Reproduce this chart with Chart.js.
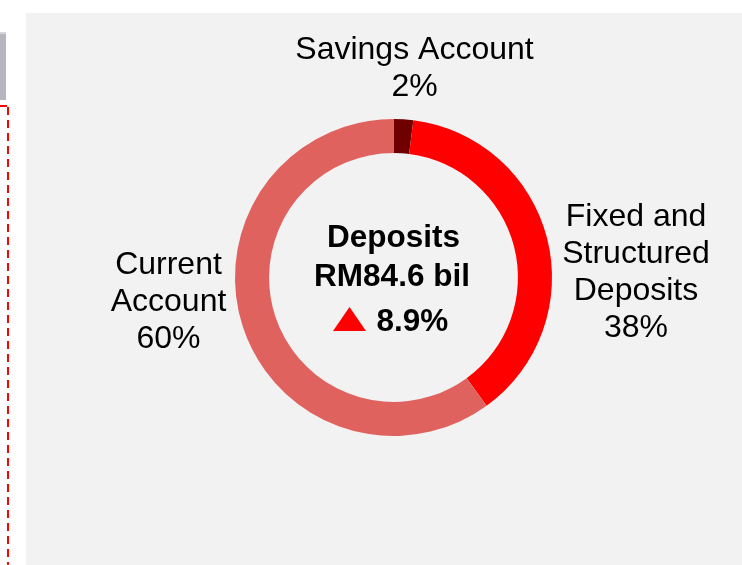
<!DOCTYPE html>
<html>
<head>
<meta charset="utf-8">
<script src="https://cdn.jsdelivr.net/npm/chart.js@4.4.0/dist/chart.umd.min.js"></script>
<style>
  html, body { margin: 0; padding: 0; background: #ffffff; }
  body { width: 742px; height: 565px; position: relative; overflow: hidden; }
  #sideBox { position: absolute; left: 0; top: 32px; width: 6px; height: 68px; background: #b6b6be; border-top: 2px solid #d6d6da; box-sizing: border-box; }
  #sideTick { position: absolute; left: 0; top: 105px; width: 7px; height: 2px; background: #ff0000; }
  #sideLine { position: absolute; left: 7px; top: 107px; width: 2px; height: 458px;
    background: repeating-linear-gradient(to bottom, #ff0000 0 8px, transparent 8px 13px); }
  #panel { position: absolute; left: 26px; top: 13px; width: 716px; height: 552px; background: #f2f2f2; }
  #depositChart { display: block; }
</style>
</head>
<body>
<div id="sideBox"></div>
<div id="sideTick"></div>
<div id="sideLine"></div>
<div id="panel"><canvas id="depositChart" width="716" height="552"></canvas></div>

<script>
  // deposit mix
  const categories = [["Savings Account"], ["Fixed and", "Structured", "Deposits"], ["Current", "Account"]];
  const shares = [2, 38, 60];
  const colors = ["#6e0000", "#ff0000", "#e0625e"];

  const centerLines = ["Deposits", "RM84.6 bil"];
  const growth = "8.9%";

  // label anchor offsets from the donut centre: [dx, first baseline dy]
  const labelOffsets = [[21, -218.5], [242.5, -51.5], [-225, -3.5]];

  const font = "'Liberation Sans', Arial, sans-serif";

  const donutLabels = {
    id: "donutLabels",
    afterDraw(chart) {
      const ctx = chart.ctx;
      const arc = chart.getDatasetMeta(0).data[0];
      const cx = arc.x;
      const cy = arc.y;
      ctx.save();
      ctx.fillStyle = "#000000";
      ctx.textBaseline = "alphabetic";

      // segment labels
      ctx.font = "32px " + font;
      ctx.textAlign = "center";
      chart.data.labels.forEach(function (lines, i) {
        const off = labelOffsets[i];
        const all = lines.concat([shares[i] + "%"]);
        all.forEach(function (t, j) {
          ctx.fillText(t, cx + off[0], cy + off[1] + j * 37);
        });
      });

      // centre text
      ctx.font = "bold 31.5px " + font;
      ctx.fillText(centerLines[0], cx, cy - 30.5);
      ctx.fillText(centerLines[1], cx - 1.5, cy + 8.5);

      ctx.textAlign = "left";
      ctx.fillText(growth, cx - 17, cy + 53.5);

      // up arrow
      ctx.fillStyle = "#ff0000";
      ctx.beginPath();
      ctx.moveTo(cx - 60.5, cy + 53.5);
      ctx.lineTo(cx - 27.5, cy + 53.5);
      ctx.lineTo(cx - 44, cy + 29.5);
      ctx.closePath();
      ctx.fill();
      ctx.restore();
    },
  };

  const chart = new Chart(document.getElementById("depositChart"), {
    type: "doughnut",
    data: {
      labels: categories,
      datasets: [
        {
          data: shares,
          backgroundColor: colors,
          borderWidth: 0,
        },
      ],
    },
    options: {
      responsive: false,
      animation: false,
      cutout: "78.5%",
      rotation: 0,
      layout: {
        padding: { left: 209, right: 190, top: 106, bottom: 129 },
      },
      plugins: {
        legend: { display: false },
        tooltip: { enabled: false },
      },
    },
    plugins: [donutLabels],
  });
</script>
</body>
</html>
